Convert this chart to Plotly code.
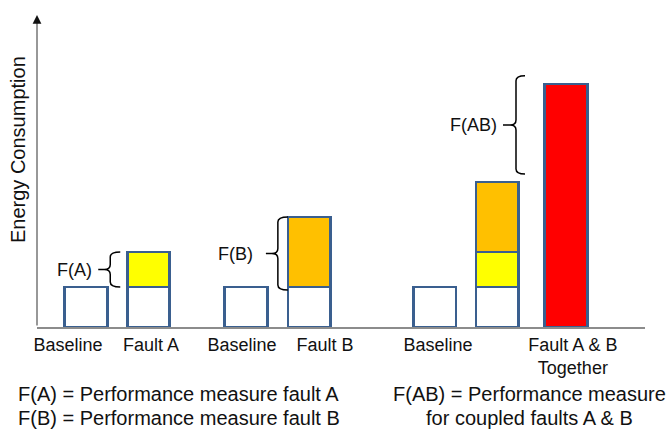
import plotly.graph_objects as go

# ---- data (energy in units of the baseline consumption) ----
bar_names = ["Baseline", "Fault A", "Baseline", "Fault B",
             "Baseline", "Fault A + Fault B", "Fault A & B Together"]
baseline_part = [1.0, 1.0, 1.0, 1.0, 1.0, 1.0, 0.0]
fault_a_part = [0.0, 0.875, 0.0, 0.0, 0.0, 0.875, 0.0]
fault_b_part = [0.0, 0.0, 0.0, 1.75, 0.0, 1.75, 0.0]
coupled_part = [0.0, 0.0, 0.0, 0.0, 0.0, 0.0, 6.08]
tick_labels = ["Baseline", "Fault A", "Baseline", "Fault B",
               "Baseline", "Fault A & B<br>Together"]

# ---- layout constants ----
BAR_X = [0, 1, 2.56, 3.57, 5.58, 6.58, 7.68]
TICK_X = [-0.288, 1.04, 2.496, 3.824, 5.632, 7.79]
BAR_W = 0.68
X_RANGE = [-0.784, 8.944]
Y_RANGE = [0, 7.8]
W, H = 672, 433
M = dict(l=37, r=27, t=15, b=106)
PX_X = (W - M["l"] - M["r"]) / (X_RANGE[1] - X_RANGE[0])   # px per x unit
PX_Y = (H - M["t"] - M["b"]) / (Y_RANGE[1] - Y_RANGE[0])   # px per y unit
FONT = "Liberation Sans, Arial, sans-serif"
OUTLINE = "#3A5F8F"


def px_x(p):
    return p / PX_X


def px_y(p):
    return p / PX_Y


def seg(values, color):
    xs = [x for x, v in zip(BAR_X, values) if v > 0]
    ys = [v for v in values if v > 0]
    return go.Bar(x=xs, y=ys, width=BAR_W, marker=dict(color=color, line=dict(color=OUTLINE, width=2.6)),
                  hoverinfo="skip", showlegend=False)


fig = go.Figure()
fig.add_trace(seg(baseline_part, "#FFFFFF"))
fig.add_trace(seg(fault_a_part, "#FFFF00"))
fig.add_trace(seg(fault_b_part, "#FFC000"))
fig.add_trace(seg(coupled_part, "#FF0000"))


def brace(x_v, x_r, x_tip, x_dash, y0, y1):
    r = px_y(5)
    ym = (y0 + y1) / 2
    return (f"M {x_r},{y1} Q {x_v},{y1} {x_v},{y1 - r} L {x_v},{ym + r} "
            f"Q {x_v},{ym} {x_tip},{ym} Q {x_v},{ym} {x_v},{ym - r} "
            f"L {x_v},{y0 + r} Q {x_v},{y0} {x_r},{y0} M {x_tip},{ym} L {x_dash},{ym}")


shapes, notes = [], []


def add_brace(text, x_v, x_r, x_tip, x_dash, x_lab, y0, y1):
    shapes.append(dict(type="path", xref="x", yref="y", path=brace(x_v, x_r, x_tip, x_dash, y0, y1),
                       line=dict(color="#000000", width=1.5)))
    notes.append(dict(x=x_lab, y=(y0 + y1) / 2, xref="x", yref="y", text=text, showarrow=False,
                      xanchor="right", yanchor="middle", font=dict(size=18, color="#111111", family=FONT)))


# F(A): between baseline top and Fault A top
left_a = BAR_X[1] - BAR_W / 2
fa_top = baseline_part[1] + fault_a_part[1]
add_brace("F(A)", left_a - px_x(17), left_a - px_x(7), left_a - px_x(23), left_a - px_x(29),
          left_a - px_x(33), baseline_part[1], fa_top)

# F(B): between baseline top and Fault B top
left_b = BAR_X[3] - BAR_W / 2
fb_top = baseline_part[3] + fault_b_part[3]
add_brace("F(B)", left_b - px_x(10), left_b, left_b - px_x(16), left_b - px_x(22),
          left_b - px_x(33), baseline_part[3] - px_y(3), fb_top)

# F(AB): between summed single faults and coupled fault
right_s = BAR_X[5] + BAR_W / 2
sum_top = baseline_part[5] + fault_a_part[5] + fault_b_part[5]
lift = px_y(8)
add_brace("F(AB)", right_s - px_x(2.5), right_s + px_x(6.5), right_s - px_x(8.5), right_s - px_x(15.5),
          right_s - px_x(20), sum_top + lift, coupled_part[6] + lift)

# y axis: grey shaft with a small black arrowhead at the top
notes.append(dict(x=X_RANGE[0], y=Y_RANGE[1] - px_y(8), ax=X_RANGE[0], ay=0, xref="x", yref="y",
                  axref="x", ayref="y", showarrow=True, arrowhead=0,
                  arrowwidth=1.6, arrowcolor="#7F7F7F", text=""))
notes.append(dict(x=X_RANGE[0], y=Y_RANGE[1], ax=X_RANGE[0], ay=Y_RANGE[1] - px_y(9), xref="x", yref="y",
                  axref="x", ayref="y", showarrow=True, arrowhead=2, arrowsize=1.1,
                  arrowwidth=1.6, arrowcolor="#111111", text=""))

# x axis line starts slightly left of the y axis
shapes.append(dict(type="line", xref="x", yref="y", x0=X_RANGE[0] - px_x(7), x1=X_RANGE[0],
                   y0=0, y1=0, line=dict(color="#8C8C8C", width=2)))


def paper_x(p):
    return (p - M["l"]) / (W - M["l"] - M["r"])


def paper_y(p):
    return (H - M["b"] - p) / (H - M["t"] - M["b"])


txt = dict(size=20, color="#111111", family=FONT)
notes.append(dict(x=paper_x(18), y=paper_y(150), xref="paper", yref="paper", text="Energy Consumption",
                  textangle=-90, showarrow=False, xanchor="center", yanchor="middle", font=txt))
for text, px, py, anchor in [
    ("F(A) = Performance measure fault A", 16, 394, "left"),
    ("F(B) = Performance measure fault B", 16, 418, "left"),
    ("F(AB) = Performance measure", 529, 394, "center"),
    ("for coupled faults A &amp; B", 529, 418, "center"),
]:
    notes.append(dict(x=paper_x(px), y=paper_y(py), xref="paper", yref="paper", text=text,
                      showarrow=False, xanchor=anchor, yanchor="middle", font=txt))

fig.update_layout(
    width=W, height=H, margin=M, barmode="stack",
    plot_bgcolor="#FFFFFF", paper_bgcolor="#FFFFFF",
    shapes=shapes, annotations=notes,
    font=dict(family=FONT, color="#111111"),
    xaxis=dict(range=X_RANGE, showgrid=False, zeroline=False, showline=True, linecolor="#8C8C8C",
               linewidth=2, tickvals=TICK_X, ticktext=tick_labels, ticks="",
               tickfont=dict(size=18, color="#111111", family=FONT)),
    yaxis=dict(range=Y_RANGE, showgrid=False, zeroline=False, showline=False, showticklabels=False),
)

fig.write_html("out.html")
